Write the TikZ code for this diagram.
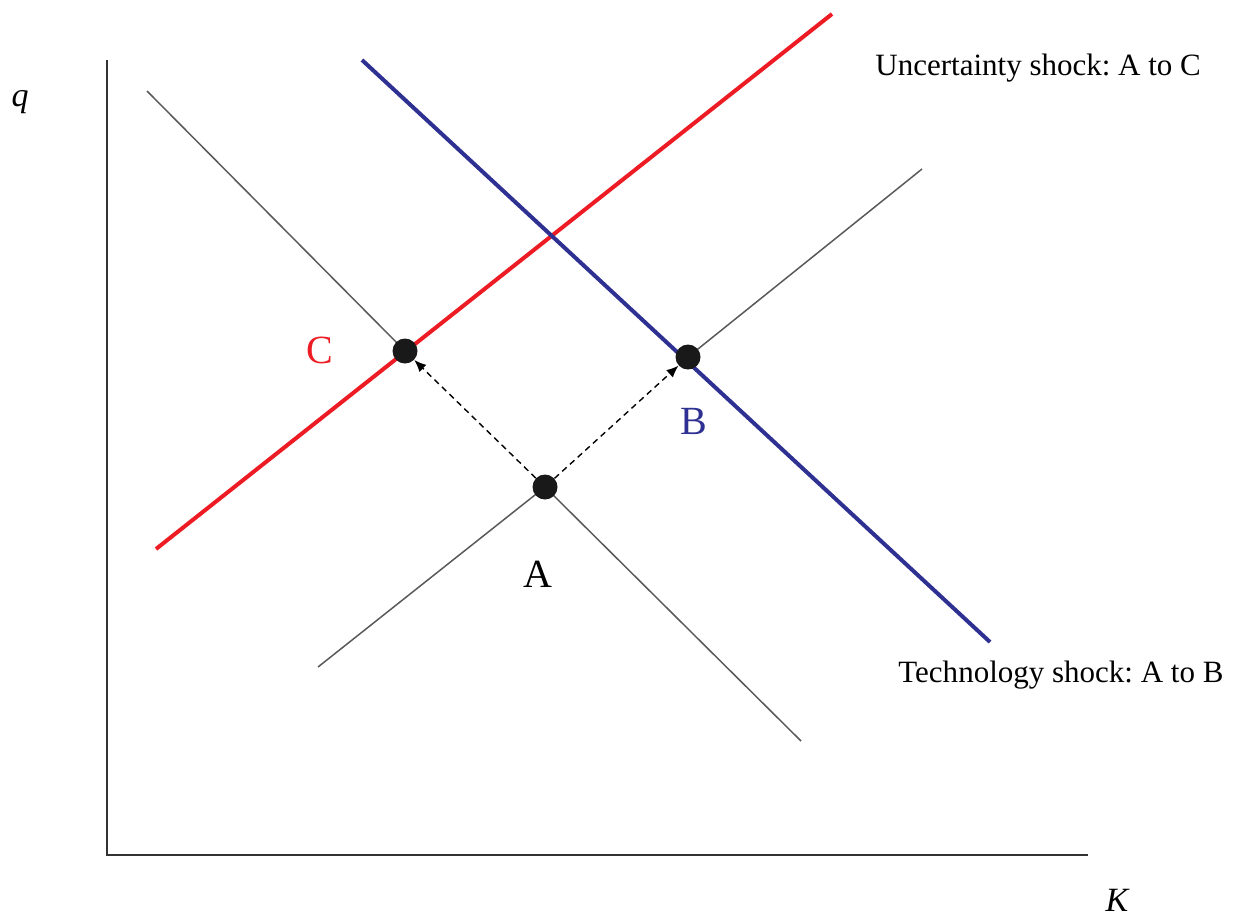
\documentclass[tikz,border=0pt]{standalone}
\usepackage{fontspec}
\setmainfont{Liberation Serif}
\usetikzlibrary{arrows.meta}
\frenchspacing

\definecolor{shockred}{RGB}{237,28,36}
\definecolor{shockblue}{RGB}{46,49,146}

\begin{document}
\begin{tikzpicture}[
  x=0.5pt,y=-0.5pt,
  axis/.style={draw=black!80,line width=1pt},
  curve/.style={draw=black!65,line width=0.75pt},
  shifted/.style={line width=2pt},
  dot/.style={circle,fill=black!90,minimum size=12.5pt,inner sep=0pt},
  move/.style={line width=0.7pt,dash pattern=on 3pt off 2.2pt,
               -{Latex[length=6pt,width=5pt]}},
  lbl/.style={font=\fontsize{20}{23}\selectfont,inner sep=0pt},
  note/.style={font=\fontsize{15.5}{18}\selectfont,anchor=base west,inner sep=0pt}
]
\useasboundingbox (0,0) rectangle (1234,918);
% axes
\coordinate (qtop) at (107,60);
\coordinate (origin) at (107,855);
\coordinate (kend) at (1088,855);
\draw[axis] (qtop) -- (origin) -- (kend);
\node[font=\fontsize{17}{20}\selectfont\itshape,inner sep=0pt] (q) at (20,102) {q};
\node[font=\fontsize{17}{20}\selectfont\itshape,inner sep=0pt] (K) at (1117,900) {K};
% equilibrium points
\coordinate (a) at (545,487);
\coordinate (b) at (688,357);
\coordinate (c) at (405,351);
% old curves
\coordinate (d1) at (147,91);
\coordinate (d2) at (801,741);
\coordinate (u1) at (318,667);
\coordinate (u2) at (922,169);
\draw[curve] (d1) -- (c);
\draw[curve] (a) -- (d2);
\draw[curve] (u1) -- (a);
\draw[curve] (b) -- (u2);
% shifted curves
\coordinate (r1) at (156,549);
\coordinate (r2) at (832,14);
\coordinate (s1) at (362,60);
\coordinate (s2) at (990,642);
\draw[shifted,shockred] (r1) -- (r2);
\draw[shifted,shockblue] (s1) -- (s2);
% dots
\node[dot] (A) at (a) {};
\node[dot] (B) at (b) {};
\node[dot] (C) at (c) {};
\draw[move] (A) -- (C);
\draw[move] (A) -- (B);
% labels
\node[lbl] (Albl) at (538,574) {A};
\node[lbl,text=shockblue] (Blbl) at (694,421) {B};
\node[lbl,text=shockred] (Clbl) at (320,350) {C};
\node[note] (unc) at (875,75) {Uncertainty shock: A to C};
\node[note] (tech) at (898,682) {Technology shock: A to B};
\end{tikzpicture}
\end{document}
